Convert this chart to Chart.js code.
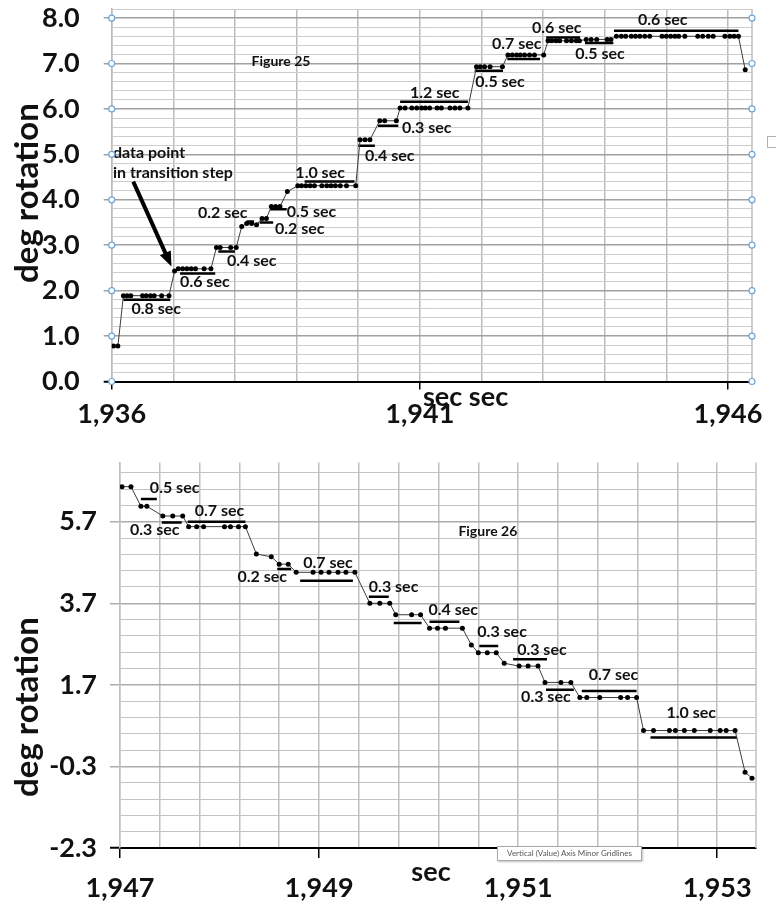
<!DOCTYPE html>
<html>
<head>
<meta charset="utf-8">
<script src="https://cdn.jsdelivr.net/npm/chart.js@4.4.0/dist/chart.umd.min.js"></script>
<style>
  body { margin: 0; background: #fff; width: 776px; height: 905px; position: relative; overflow: hidden; font-family: Lato, "Open Sans", sans-serif; }
  canvas { position: absolute; left: 0; }
  #fig25 { top: 0; }
  #fig26 { top: 440px; }
  .tip { position: absolute; left: 497px; top: 846px; width: 143px; height: 13px; border: 1px solid #a8a8a8; background: #fff;
         font: 8px Lato, sans-serif; color: #555; line-height: 13px; text-align: center; box-shadow: 1px 1px 2px rgba(0,0,0,.25); }
  .icon { position: absolute; left: 767px; top: 136px; width: 9px; height: 10px; border: 1px solid #b0b0b0; border-right: 0; }
</style>
</head>
<body>
<canvas id="fig25" width="776" height="440"></canvas>
<canvas id="fig26" width="776" height="465"></canvas>
<div class="tip">Vertical (Value) Axis Minor Gridlines</div>
<div class="icon"></div>
<script>
// ---- Figure 25: rotation stepping up, seconds vs degrees
const fig25Sec = [
  1936.03, 1936.10,
  1936.19, 1936.25, 1936.31, 1936.50, 1936.56, 1936.63, 1936.69, 1936.81, 1936.93,
  1937.02,
  1937.08, 1937.15, 1937.22, 1937.29, 1937.36, 1937.50, 1937.61,
  1937.70, 1937.76, 1937.93, 1938.02,
  1938.11, 1938.19, 1938.27, 1938.35, 1938.44, 1938.51,
  1938.59, 1938.66, 1938.73, 1938.85,
  1939.02, 1939.08, 1939.15, 1939.22, 1939.29, 1939.41, 1939.49, 1939.56, 1939.63, 1939.71, 1939.81, 1939.96,
  1940.03, 1940.11, 1940.19,
  1940.35, 1940.43, 1940.62,
  1940.68, 1940.76, 1940.87, 1940.95, 1941.03, 1941.09, 1941.16, 1941.28, 1941.35, 1941.49, 1941.57, 1941.65, 1941.78,
  1941.92, 1941.98, 1942.05, 1942.14, 1942.34,
  1942.43, 1942.50, 1942.57, 1942.63, 1942.70, 1942.78, 1942.86, 1943.01,
  1943.08, 1943.14, 1943.21, 1943.27, 1943.38, 1943.46, 1943.54, 1943.59,
  1943.70, 1943.78, 1943.87, 1944.04, 1944.10,
  1944.19, 1944.27, 1944.34, 1944.43, 1944.50, 1944.57, 1944.65, 1944.73,
  1944.93, 1945.00, 1945.07, 1945.14, 1945.20, 1945.30,
  1945.51, 1945.59, 1945.68, 1945.76,
  1945.95, 1946.03, 1946.10, 1946.17,
  1946.28
];
const fig25Deg = [
  0.78, 0.78,
  1.89, 1.89, 1.89, 1.89, 1.89, 1.89, 1.89, 1.89, 1.89,
  2.43,
  2.48, 2.48, 2.48, 2.48, 2.48, 2.48, 2.48,
  2.95, 2.95, 2.95, 2.95,
  3.41, 3.48, 3.48, 3.45, 3.59, 3.59,
  3.85, 3.85, 3.85, 4.18,
  4.31, 4.31, 4.31, 4.31, 4.31, 4.31, 4.31, 4.31, 4.31, 4.31, 4.31, 4.31,
  5.32, 5.32, 5.32,
  5.74, 5.74, 5.74,
  6.02, 6.02, 6.02, 6.02, 6.02, 6.02, 6.02, 6.02, 6.02, 6.02, 6.02, 6.02, 6.02,
  6.93, 6.93, 6.93, 6.93, 6.93,
  7.19, 7.19, 7.19, 7.19, 7.19, 7.19, 7.19, 7.19,
  7.50, 7.50, 7.50, 7.50, 7.50, 7.50, 7.50, 7.50,
  7.53, 7.53, 7.53, 7.53, 7.53,
  7.60, 7.60, 7.60, 7.60, 7.60, 7.60, 7.60, 7.60,
  7.60, 7.60, 7.60, 7.60, 7.60, 7.60,
  7.60, 7.60, 7.60, 7.60,
  7.60, 7.60, 7.60, 7.60,
  6.86
];
const fig25XLabels = [1936, 1941, 1946];
const fig25YLabels = [0, 1, 2, 3, 4, 5, 6, 7, 8];

// step durations: bar from / to (sec), bar level (deg), text and where the text sits
const fig25SpanFrom = [1936.19, 1937.11, 1937.73, 1938.19, 1938.40, 1938.57, 1939.13, 1940.00, 1940.32, 1940.68, 1941.89, 1942.42, 1943.05, 1943.68, 1944.15];
const fig25SpanTo   = [1936.95, 1937.68, 1938.00, 1938.31, 1938.62, 1938.84, 1939.94, 1940.27, 1940.65, 1941.78, 1942.35, 1942.95, 1943.60, 1944.14, 1946.17];
const fig25SpanDeg  = [1.80, 2.38, 2.86, 3.52, 3.50, 3.79, 4.40, 5.19, 5.63, 6.16, 6.84, 7.10, 7.57, 7.45, 7.72];
const fig25NoteText = ['0.8 sec', '0.6 sec', '0.4 sec', '0.2 sec', '0.2 sec', '0.5 sec', '1.0 sec', '0.4 sec', '0.3 sec', '1.2 sec', '0.5 sec', '0.7 sec', '0.6 sec', '0.5 sec', '0.6 sec'];
const fig25NoteSec  = [1936.32, 1937.11, 1937.87, 1937.40, 1938.65, 1938.84, 1938.98, 1940.11, 1940.71, 1940.84, 1941.90, 1942.17, 1942.82, 1943.52, 1944.54];
const fig25NoteDeg  = [1.61, 2.20, 2.66, 3.72, 3.37, 3.73, 4.59, 4.97, 5.58, 6.35, 6.60, 7.43, 7.79, 7.21, 7.96];

// ---- Figure 26: rotation stepping down
const fig26Sec = [
  1947.02, 1947.11,
  1947.21, 1947.27,
  1947.43, 1947.53, 1947.63,
  1947.69, 1947.77, 1947.84, 1948.05, 1948.11, 1948.19, 1948.26,
  1948.37, 1948.52,
  1948.60, 1948.69,
  1948.77, 1948.94, 1949.02, 1949.10, 1949.19, 1949.27, 1949.36,
  1949.51, 1949.61, 1949.71,
  1949.77, 1949.93, 1950.02,
  1950.11, 1950.19, 1950.27, 1950.44,
  1950.53,
  1950.60, 1950.69, 1950.78,
  1950.86,
  1951.01, 1951.10, 1951.20,
  1951.27, 1951.43, 1951.53,
  1951.62, 1951.69, 1951.82, 1952.03, 1952.10, 1952.19,
  1952.26, 1952.36, 1952.52, 1952.58, 1952.67, 1952.77, 1952.93, 1953.03, 1953.09, 1953.18,
  1953.28, 1953.35
];
const fig26Deg = [
  6.56, 6.56,
  6.08, 6.08,
  5.84, 5.84, 5.84,
  5.58, 5.58, 5.58, 5.58, 5.58, 5.58, 5.58,
  4.91, 4.84,
  4.66, 4.66,
  4.46, 4.46, 4.46, 4.46, 4.46, 4.46, 4.46,
  3.70, 3.70, 3.70,
  3.42, 3.42, 3.42,
  3.09, 3.09, 3.09, 3.09,
  2.68,
  2.49, 2.49, 2.49,
  2.23,
  2.16, 2.16, 2.16,
  1.76, 1.76, 1.76,
  1.39, 1.39, 1.39, 1.39, 1.39, 1.39,
  0.58, 0.58, 0.58, 0.58, 0.58, 0.58, 0.58, 0.58, 0.58, 0.58,
  -0.44, -0.59
];
const fig26XLabels = [1947, 1949, 1951, 1953];
const fig26YLabels = [-2.3, -0.3, 1.7, 3.7, 5.7];

const fig26SpanFrom = [1947.21, 1947.42, 1947.68, 1948.58, 1948.81, 1949.50, 1949.75, 1950.11, 1950.61, 1950.95, 1951.28, 1951.64, 1952.33];
const fig26SpanTo   = [1947.37, 1947.62, 1948.26, 1948.72, 1949.34, 1949.70, 1950.03, 1950.41, 1950.80, 1951.29, 1951.56, 1952.19, 1953.20];
const fig26SpanDeg  = [6.26, 5.68, 5.70, 4.54, 4.25, 3.86, 3.22, 3.25, 2.65, 2.33, 1.58, 1.55, 0.41];
const fig26NoteText = ['0.5 sec', '0.3 sec', '0.7 sec', '0.2 sec', '0.7 sec', '0.3 sec', '0.4 sec', '0.3 sec', '0.3 sec', '0.3 sec', '0.7 sec', '1.0 sec'];
const fig26NoteSec  = [1947.30, 1947.10, 1947.75, 1948.18, 1948.84, 1949.50, 1950.10, 1950.59, 1950.99, 1951.03, 1951.71, 1952.49];
const fig26NoteDeg  = [6.52, 5.50, 5.96, 4.34, 4.70, 4.11, 3.54, 3.00, 2.57, 1.41, 1.94, 1.02];

Chart.defaults.font.family = 'Lato, "Open Sans", sans-serif';

const near = (list, v) => list.some(l => Math.abs(l - v) < 1e-6);

function steps(from, to, step) {
  const out = [];
  for (let k = 0; from + k * step <= to + 1e-9; k++) out.push(Math.round((from + k * step) * 100) / 100);
  return out;
}

// labels, bars' captions, titles and the little selection circles
const notesPlugin = {
  id: 'notes',
  beforeDatasetsDraw(chart, args, o) {
    const { ctx, chartArea: a } = chart;
    ctx.save();
    ctx.strokeStyle = o.vGrid;
    ctx.lineWidth = 1.5;
    ctx.beginPath();
    ctx.moveTo(a.right, a.top);
    ctx.lineTo(a.right, a.bottom);
    ctx.stroke();
    ctx.restore();
  },
  afterDatasetsDraw(chart, args, o) {
    const { ctx, chartArea: a, scales: { x, y } } = chart;
    ctx.save();
    ctx.fillStyle = '#111';
    ctx.textBaseline = 'middle';
    ctx.textAlign = 'left';
    ctx.font = 'bold 16px Lato';
    o.noteText.forEach((t, i) => ctx.fillText(t, x.getPixelForValue(o.noteSec[i]), y.getPixelForValue(o.noteDeg[i])));

    ctx.font = 'bold 14px Lato';
    ctx.fillText(o.figure, x.getPixelForValue(o.figureAt[0]), y.getPixelForValue(o.figureAt[1]));

    if (o.callout) {
      ctx.font = 'bold 16px Lato';
      o.callout.text.forEach((t, i) => ctx.fillText(t, x.getPixelForValue(o.callout.sec), y.getPixelForValue(o.callout.deg[i])));
      const x0 = x.getPixelForValue(o.callout.from[0]), y0 = y.getPixelForValue(o.callout.from[1]);
      const x1 = x.getPixelForValue(o.callout.to[0]), y1 = y.getPixelForValue(o.callout.to[1]);
      const ang = Math.atan2(y1 - y0, x1 - x0);
      const head = 15;
      ctx.strokeStyle = '#000';
      ctx.lineWidth = 4;
      ctx.beginPath();
      ctx.moveTo(x0, y0);
      ctx.lineTo(x1 - head * 0.8 * Math.cos(ang), y1 - head * 0.8 * Math.sin(ang));
      ctx.stroke();
      ctx.fillStyle = '#000';
      ctx.beginPath();
      ctx.moveTo(x1, y1);
      ctx.lineTo(x1 - head * Math.cos(ang) + 6 * Math.sin(ang), y1 - head * Math.sin(ang) - 6 * Math.cos(ang));
      ctx.lineTo(x1 - head * Math.cos(ang) - 6 * Math.sin(ang), y1 - head * Math.sin(ang) + 6 * Math.cos(ang));
      ctx.closePath();
      ctx.fill();
    }

    // axis titles
    ctx.fillStyle = '#111';
    ctx.font = 'bold 27px Lato';
    ctx.textAlign = o.xTitle.align;
    ctx.fillText(o.xTitle.text, o.xTitle.x, o.xTitle.y);
    ctx.save();
    ctx.translate(o.yTitle.x, o.yTitle.y);
    ctx.rotate(-Math.PI / 2);
    ctx.textAlign = 'center';
    ctx.font = 'bold 33px Lato';
    ctx.fillText('deg rotation', 0, 0);
    ctx.restore();

    // selected-axis handles
    if (o.handles) {
      ctx.strokeStyle = '#6ea6d8';
      ctx.fillStyle = '#fff';
      ctx.lineWidth = 1.2;
      o.yLabels.forEach(v => {
        [a.left, a.right].forEach(px => {
          ctx.beginPath();
          ctx.arc(px, y.getPixelForValue(v), 3, 0, Math.PI * 2);
          ctx.fill();
          ctx.stroke();
        });
      });
    }
    ctx.restore();
  }
};

function buildChart(id, o) {
  const series = {
    data: o.sec.map((s, i) => ({ x: s, y: o.deg[i] })),
    showLine: true,
    borderColor: '#3c3c3c',
    borderWidth: 1,
    pointRadius: 2.5,
    pointBackgroundColor: '#000',
    pointBorderWidth: 0
  };
  const spans = o.spanFrom.map((from, i) => ({
    data: [{ x: from, y: o.spanDeg[i] }, { x: o.spanTo[i], y: o.spanDeg[i] }],
    showLine: true,
    borderColor: '#000',
    borderWidth: 2.5,
    pointRadius: 0
  }));
  const yMajor = v => near(o.yLabels, v);

  return new Chart(document.getElementById(id), {
    type: 'scatter',
    data: { datasets: [series, ...spans] },
    options: {
      responsive: false,
      animation: false,
      devicePixelRatio: 1,
      layout: { padding: { top: o.padTop, right: o.padRight, left: 0, bottom: 0 } },
      plugins: { legend: { display: false }, tooltip: { enabled: false }, notes: o },
      scales: {
        x: {
          type: 'linear',
          min: o.xMin,
          max: o.xMax,
          afterBuildTicks: s => { s.ticks = o.xGrid.map(v => ({ value: v })); },
          afterFit: s => { s.height = o.xAxisH; s.paddingLeft = 0; s.paddingRight = 0; },
          ticks: {
            autoSkip: false,
            maxRotation: 0,
            padding: o.xPad,
            color: '#111',
            font: { size: 27, weight: 'bold' },
            callback: v => near(o.xLabels, v) ? Math.round(v).toLocaleString('en-US') : ''
          },
          grid: {
            color: o.vGrid,
            lineWidth: 1.5,
            tickLength: o.tickLen,
            tickColor: c => near(o.xLabels, c.tick.value) ? '#000' : 'rgba(0,0,0,0)',
            tickWidth: 1.5
          },
          border: { color: '#000', width: 2 }
        },
        y: {
          min: o.yMin,
          max: o.yMax,
          afterBuildTicks: s => { s.ticks = o.yGrid.map(v => ({ value: v })); },
          afterFit: s => { s.width = o.yAxisW; s.paddingTop = 0; s.paddingBottom = 0; },
          ticks: {
            autoSkip: false,
            padding: o.yPad,
            color: '#111',
            font: { size: 27, weight: 'bold' },
            callback: v => yMajor(v) ? v.toFixed(1) : ''
          },
          grid: {
            color: c => yMajor(c.tick.value) ? o.hMajor : o.hMinor,
            lineWidth: c => yMajor(c.tick.value) ? 1.5 : 1,
            tickLength: o.tickLen,
            tickColor: c => Math.abs(c.tick.value - o.yMin) < 1e-6 ? '#000' : (yMajor(c.tick.value) ? o.hMajor : 'rgba(0,0,0,0)'),
            tickWidth: c => Math.abs(c.tick.value - o.yMin) < 1e-6 ? 2 : 1.5
          },
          border: { color: o.vGrid, width: 1.5 }
        }
      }
    },
    plugins: [notesPlugin]
  });
}

buildChart('fig25', {
  sec: fig25Sec, deg: fig25Deg,
  spanFrom: fig25SpanFrom, spanTo: fig25SpanTo, spanDeg: fig25SpanDeg,
  noteText: fig25NoteText, noteSec: fig25NoteSec, noteDeg: fig25NoteDeg,
  figure: 'Figure 25', figureAt: [1938.27, 7.04],
  callout: {
    text: ['data point', 'in transition step'], sec: 1936.02, deg: [5.04, 4.59],
    from: [1936.35, 4.40], to: [1936.97, 2.53]
  },
  xMin: 1936, xMax: 1946.39, xGrid: steps(1936, 1946, 1), xLabels: fig25XLabels,
  yMin: 0, yMax: 8.2, yGrid: steps(0, 8.2, 0.2), yLabels: fig25YLabels,
  padTop: 9, padRight: 24, xAxisH: 58.5, yAxisW: 111.7,
  xPad: 9, yPad: 24, tickLen: 8,
  vGrid: '#bcbcbc', hMajor: '#a0a0a0', hMinor: '#cdcdcd',
  xTitle: { text: 'sec sec', x: 423, y: 397, align: 'left' },
  yTitle: { x: 27, y: 193 },
  handles: true
});

buildChart('fig26', {
  sec: fig26Sec, deg: fig26Deg,
  spanFrom: fig26SpanFrom, spanTo: fig26SpanTo, spanDeg: fig26SpanDeg,
  noteText: fig26NoteText, noteSec: fig26NoteSec, noteDeg: fig26NoteDeg,
  figure: 'Figure 26', figureAt: [1950.40, 5.45],
  xMin: 1947, xMax: 1953.39, xGrid: steps(1947, 1953, 0.4), xLabels: fig26XLabels,
  yMin: -2.3, yMax: 7.15, yGrid: steps(-2.3, 6.9, 0.4), yLabels: fig26YLabels,
  padTop: 22.6, padRight: 20, xAxisH: 57, yAxisW: 120,
  xPad: 14, yPad: 13, tickLen: 10,
  vGrid: '#c0c0c0', hMajor: '#acacac', hMinor: '#c3c3c3',
  xTitle: { text: 'sec', x: 431, y: 432, align: 'center' },
  yTitle: { x: 27, y: 267 },
  handles: false
});
</script>
</body>
</html>
